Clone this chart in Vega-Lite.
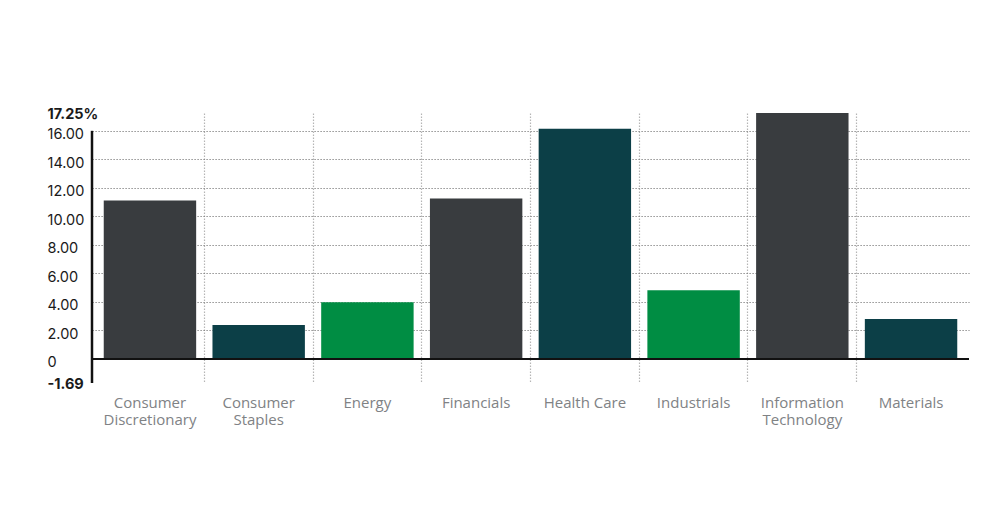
{
  "$schema": "https://vega.github.io/schema/vega-lite/v6.json",
  "autosize": "none",
  "width": 877,
  "height": 270,
  "padding": {"left": 92, "top": 113, "right": 20, "bottom": 131},
  "background": "white",
  "config": {"view": {"stroke": null}},
  "data": {"values": [
    {"sector": "Consumer|Discretionary", "value": 11.11},
    {"sector": "Consumer|Staples", "value": 2.38},
    {"sector": "Energy", "value": 3.98},
    {"sector": "Financials", "value": 11.25},
    {"sector": "Health Care", "value": 16.14},
    {"sector": "Industrials", "value": 4.82},
    {"sector": "Information|Technology", "value": 17.25},
    {"sector": "Materials", "value": 2.8}
  ]},
  "encoding": {
    "x": {
      "field": "sector", "type": "nominal", "sort": null,
      "scale": {"paddingInner": 0, "paddingOuter": 0.033},
      "axis": {
        "title": null, "orient": "bottom", "domain": false, "ticks": false,
        "grid": true, "bandPosition": 0,
        "gridColor": "#b5b5b5", "gridDash": [1.5, 1.5], "gridWidth": 1.2,
        "gridOpacity": {"condition": {"test": "datum.value === 'Consumer|Discretionary'", "value": 0}, "value": 1},
        "labelAngle": 0, "labelExpr": "split(datum.label, '|')",
        "labelFont": "Open Sans", "labelFontSize": 15, "labelColor": "#808285",
        "labelLineHeight": 17, "labelPadding": 12, "labelBaseline": "top"
      }
    },
    "y": {
      "field": "value", "type": "quantitative",
      "scale": {"domain": [-1.69, 17.25], "nice": false, "zero": false},
      "axis": {
        "title": null, "domain": false, "ticks": false, "tickSize": 0,
        "values": [-1.69, 0, 2, 4, 6, 8, 10, 12, 14, 16, 17.25],
        "labelExpr": "datum.value == 17.25 ? '17.25%' : datum.value < 0 ? '-1.69' : datum.value == 0 ? '0' : format(datum.value, '.2f')",
        "labelAlign": "left", "labelPadding": 45,
        "labelFont": "Inter", "labelFontSize": 14.5, "labelColor": "#1a1a1a",
        "labelFontWeight": {"condition": {"test": "datum.value == 17.25 || datum.value < 0", "value": "bold"}, "value": "normal"},
        "labelOffset": {"condition": {"test": "datum.value == 17.25 || datum.value < 0", "value": 1}, "value": 4},
        "labelOverlap": false,
        "grid": true, "gridColor": "#777777", "gridDash": [1.2, 1.8], "gridWidth": 1,
        "gridOpacity": {"condition": {"test": "datum.value > 1 && datum.value < 17", "value": 1}, "value": 0}
      }
    }
  },
  "layer": [
    {
      "mark": {"type": "bar", "width": {"band": 0.85}},
      "encoding": {
        "color": {
          "field": "sector", "type": "nominal", "legend": null,
          "scale": {
            "domain": ["Consumer|Discretionary", "Consumer|Staples", "Energy", "Financials", "Health Care", "Industrials", "Information|Technology", "Materials"],
            "range": ["#393c3f", "#0c3f47", "#008d43", "#393c3f", "#0c3f47", "#008d43", "#393c3f", "#0c3f47"]
          }
        }
      }
    },
    {
      "data": {"values": [{"z": 0}]},
      "mark": {"type": "rule", "color": "#111111", "strokeWidth": 2},
      "encoding": {"y": {"field": "z", "type": "quantitative"}, "x": null}
    },
    {
      "data": {"values": [{"lo": -1.69, "hi": 16, "s": "Consumer|Discretionary"}]},
      "mark": {"type": "rule", "color": "#111111", "strokeWidth": 2.5},
      "encoding": {
        "x": {"field": "s", "type": "nominal", "bandPosition": -0.033},
        "y": {"field": "lo", "type": "quantitative"},
        "y2": {"field": "hi"}
      }
    }
  ]
}
